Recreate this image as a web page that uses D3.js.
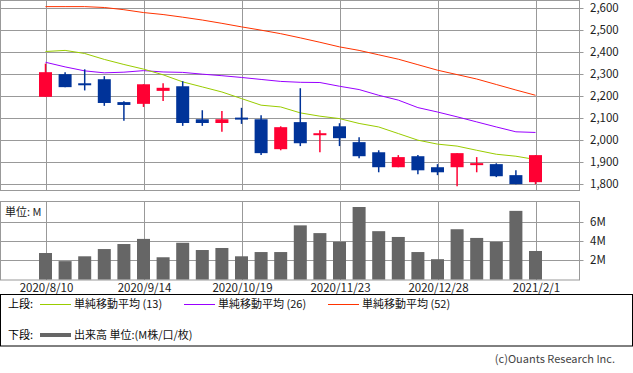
<!DOCTYPE html>
<html>
<head>
<meta charset="utf-8">
<script src="https://cdn.jsdelivr.net/npm/d3@7"></script>
<style>
  body { margin: 0; background: #fff; }
  svg { display: block; font-family: "Noto Sans CJK JP", "Noto Sans", sans-serif; }
</style>
</head>
<body>
<svg id="chart" width="633" height="373"></svg>
<script>
// --- DATA (weekly candles) ---
const weeks = ["2020-08-10","2020-08-17","2020-08-24","2020-08-31","2020-09-07","2020-09-14","2020-09-21",
  "2020-09-28","2020-10-05","2020-10-12","2020-10-19","2020-10-26","2020-11-02","2020-11-09","2020-11-16",
  "2020-11-23","2020-11-30","2020-12-07","2020-12-14","2020-12-21","2020-12-28","2021-01-04","2021-01-11",
  "2021-01-18","2021-01-25","2021-02-01"];
const open  = [2194,2297,2251,2274,2170,2162,2221,2242,2092,2075,2095,2092,1956,2079,2015,2060,1988,1942,1874,1924,1874,1874,1879,1888,1838,1806];
const high  = [2345,2306,2319,2288,2174,2251,2256,2265,2133,2129,2144,2110,2060,2233,2042,2074,2010,1951,1929,1929,1888,1938,1920,1892,1860,1929];
const low   = [2194,2238,2223,2153,2085,2148,2175,2062,2062,2035,2071,1929,1951,1970,1942,1970,1915,1851,1874,1842,1838,1788,1851,1829,1797,1797];
const close = [2306,2238,2244,2166,2157,2251,2235,2075,2075,2092,2091,1938,2056,1983,2024,2006,1924,1874,1920,1860,1851,1938,1888,1833,1797,1929];
const ma13  = [2400,2405,2391,2364,2341,2320,2294,2262,2239,2216,2186,2156,2148,2121,2106,2095,2073,2057,2027,1997,1979,1970,1951,1933,1924,1909];
const ma26  = [2351,2330,2312,2303,2306,2313,2307,2305,2297,2290,2282,2273,2264,2260,2259,2242,2227,2201,2179,2145,2125,2103,2080,2057,2035,2032];
const ma52  = [2604,2604,2604,2600,2590,2577,2568,2556,2543,2528,2512,2497,2481,2462,2442,2421,2405,2385,2365,2340,2315,2295,2275,2250,2225,2201];
const volume = [2.74,1.9,2.4,3.15,3.67,4.2,2.3,3.8,3.05,3.26,2.4,2.84,2.84,5.6,4.8,3.9,7.5,5.0,4.4,2.84,2.1,5.2,4.3,3.9,7.1,2.95];

const dateTicks = ["2020-08-10","2020-09-14","2020-10-19","2020-11-23","2020-12-28","2021-02-01"];
const dateTickLabels = ["2020/8/10","2020/9/14","2020/10/19","2020/11/23","2020/12/28","2021/2/1"];
const priceTicks = [1800,1900,2000,2100,2200,2300,2400,2500,2600];
const volTicks = [2,4,6];

const legendItems = [
  { label: "単純移動平均 (13)", color: "#99cc00", x: 40 },
  { label: "単純移動平均 (26)", color: "#9900ff", x: 184 },
  { label: "単純移動平均 (52)", color: "#ff3300", x: 328 }
];

// --- SETUP ---
const svg = d3.select("#chart");
const parse = d3.timeParse("%Y-%m-%d");
const GRID = "#999";
const UP = "#ff0033", DOWN = "#003399";

const plotL = 0.5, plotR = 579.5;
const top1 = 0.5, bot1 = 190.5;
const top2 = 201.5, bot2 = 280;

const x = d3.scaleTime()
  .domain([parse(weeks[0]), parse(weeks[weeks.length - 1])])
  .range([45.5, 535.5]);

const y = d3.scaleLinear().domain([1800, 2600]).range([183.5, 7.5]);
const yv = d3.scaleLinear().domain([0, 6]).range([279.5, 221.5]);

const data = weeks.map((w, i) => ({
  date: parse(w), o: open[i], h: high[i], l: low[i], c: close[i],
  m13: ma13[i], m26: ma26[i], m52: ma52[i], v: volume[i]
}));

// --- FRAMES & GRID ---
function panel(t, b, yTicks, yScale, fmt) {
  const g = svg.append("g");
  g.selectAll(".hg").data(yTicks).join("line")
    .attr("x1", plotL).attr("x2", plotR + 4)
    .attr("y1", d => Math.round(yScale(d)) + 0.5).attr("y2", d => Math.round(yScale(d)) + 0.5)
    .attr("stroke", GRID);
  g.selectAll(".vg").data(dateTicks).join("line")
    .attr("x1", d => Math.round(x(parse(d))) + 0.5).attr("x2", d => Math.round(x(parse(d))) + 0.5)
    .attr("y1", t).attr("y2", b)
    .attr("stroke", GRID);
  g.append("rect").attr("x", plotL).attr("y", t).attr("width", plotR - plotL).attr("height", b - t)
    .attr("fill", "none").attr("stroke", GRID);
  g.selectAll(".yl").data(yTicks).join("text")
    .attr("x", 590).attr("y", d => yScale(d))
    .attr("dy", "0.35em").attr("font-size", 11.5).attr("fill", "#222")
    .text(fmt);
  return g;
}
panel(top1, bot1, priceTicks, y, d3.format(","));
panel(top2, bot2, volTicks, yv, d => d + "M");

// --- VOLUME BARS ---
svg.append("g").selectAll("rect").data(data).join("rect")
  .attr("x", d => x(d.date) - 6.5)
  .attr("width", 13)
  .attr("y", d => yv(d.v))
  .attr("height", d => yv(0) - yv(d.v))
  .attr("fill", "#666");

svg.append("text").attr("x", 5).attr("y", 212).attr("dy", "0.35em")
  .attr("font-size", 11).attr("fill", "#222").text("単位: M");

// --- MOVING AVERAGES ---
const lines = [["m52", "#ff3300"], ["m26", "#9900ff"], ["m13", "#99cc00"]];
lines.forEach(([k, col]) => {
  svg.append("path").datum(data)
    .attr("fill", "none").attr("stroke", col).attr("stroke-width", 1)
    .attr("d", d3.line().x(d => x(d.date)).y(d => y(d[k])));
});

// --- CANDLES ---
const candles = svg.append("g").selectAll("g").data(data).join("g");
candles.append("line")
  .attr("x1", d => x(d.date)).attr("x2", d => x(d.date))
  .attr("y1", d => y(d.h)).attr("y2", d => y(d.l))
  .attr("stroke", d => d.c >= d.o ? UP : DOWN).attr("stroke-width", 1.5);
candles.append("rect")
  .attr("x", d => x(d.date) - 6.5).attr("width", 13)
  .attr("y", d => Math.min(y(d.o), y(d.c)) - (Math.abs(y(d.o) - y(d.c)) < 2 ? 1 : 0))
  .attr("height", d => Math.max(2, Math.abs(y(d.o) - y(d.c))))
  .attr("fill", d => d.c >= d.o ? UP : DOWN);

// --- DATE LABELS ---
svg.append("g").selectAll("text").data(dateTicks).join("text")
  .attr("x", (d, i) => x(parse(d)) + 1).attr("y", 288).attr("dy", "0.35em")
  .attr("text-anchor", "middle").attr("font-size", 11.5).attr("fill", "#222")
  .text((d, i) => dateTickLabels[i]);

// --- LEGEND ---
const lg = svg.append("g");
lg.append("rect").attr("x", 0.5).attr("y", 294.5).attr("width", 632).attr("height", 51.5)
  .attr("fill", "none").attr("stroke", "#000");
lg.append("text").attr("x", 8).attr("y", 304).attr("dy", "0.35em").attr("font-size", 11).text("上段:");
legendItems.forEach(it => {
  lg.append("line").attr("x1", it.x).attr("x2", it.x + 31).attr("y1", 304.5).attr("y2", 304.5)
    .attr("stroke", it.color).attr("stroke-width", 1);
  lg.append("text").attr("x", it.x + 34).attr("y", 304).attr("dy", "0.35em")
    .attr("font-size", 11).attr("fill", "#111").text(it.label);
});
lg.append("text").attr("x", 8).attr("y", 335).attr("dy", "0.35em").attr("font-size", 11).text("下段:");
lg.append("line").attr("x1", 40).attr("x2", 71).attr("y1", 335).attr("y2", 335)
  .attr("stroke", "#666").attr("stroke-width", 4);
lg.append("text").attr("x", 74).attr("y", 335).attr("dy", "0.35em")
  .attr("font-size", 11).attr("fill", "#111").text("出来高 単位:(M株/口/枚)");

svg.append("text").attr("x", 615).attr("y", 359).attr("dy", "0.35em")
  .attr("text-anchor", "end").attr("font-size", 11).attr("fill", "#444")
  .text("(c)Ouants Research Inc.");
</script>
</body>
</html>
